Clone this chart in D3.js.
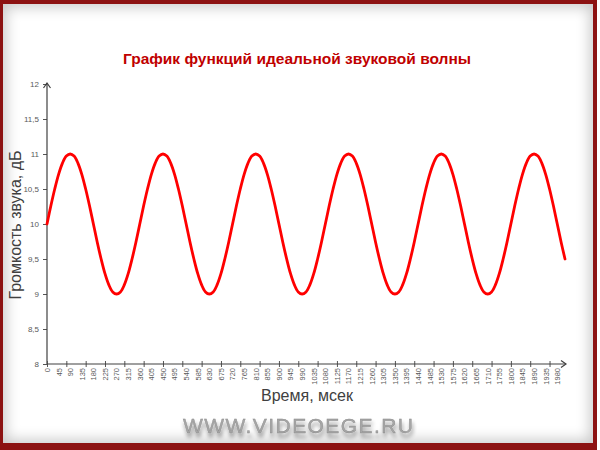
<!DOCTYPE html>
<html>
<head>
<meta charset="utf-8">
<script src="https://cdn.jsdelivr.net/npm/d3@7"></script>
<style>
  html, body { margin: 0; padding: 0; background: #ffffff; }
  #frame { position: absolute; left: 0; top: 0; width: 600px; height: 450px; background: #ffffff; }
  #border { position: absolute; left: 0; top: 0; width: 597px; height: 450px; background: #8c1212; }
  #inner { position: absolute; left: 3px; top: 4px; width: 590px; height: 439px; background: #ffffff;
           box-shadow: inset 0 0 14px 3px rgba(0,0,0,0.22); }
  svg { position: absolute; left: 0; top: 0; }
</style>
</head>
<body>
<div id="frame"><div id="border"></div><div id="inner"></div></div>
<svg id="chart" width="600" height="450"></svg>
<script>
// ---- data ----
const times = [0,15,30,45,60,75,90,105,120,135,150,165,180,195,210,225,240,255,270,285,300,315,330,345,
  360,375,390,405,420,435,450,465,480,495,510,525,540,555,570,585,600,615,630,645,660,675,690,705,
  720,735,750,765,780,795,810,825,840,855,870,885,900,915,930,945,960,975,990,1005,1020,1035,1050,1065,
  1080,1095,1110,1125,1140,1155,1170,1185,1200,1215,1230,1245,1260,1275,1290,1305,1320,1335,1350,1365,1380,1395,1410,1425,
  1440,1455,1470,1485,1500,1515,1530,1545,1560,1575,1590,1605,1620,1635,1650,1665,1680,1695,1710,1725,1740,1755,1770,1785,
  1800,1815,1830,1845,1860,1875,1890,1905,1920,1935,1950,1965,1980,1995,2010];
const loudness = [10,10.26,10.5,10.71,10.87,10.97,11,10.97,10.87,10.71,10.5,10.26,10,9.74,9.5,9.29,9.13,9.03,9,9.03,9.13,9.29,9.5,9.74,
  10,10.26,10.5,10.71,10.87,10.97,11,10.97,10.87,10.71,10.5,10.26,10,9.74,9.5,9.29,9.13,9.03,9,9.03,9.13,9.29,9.5,9.74,
  10,10.26,10.5,10.71,10.87,10.97,11,10.97,10.87,10.71,10.5,10.26,10,9.74,9.5,9.29,9.13,9.03,9,9.03,9.13,9.29,9.5,9.74,
  10,10.26,10.5,10.71,10.87,10.97,11,10.97,10.87,10.71,10.5,10.26,10,9.74,9.5,9.29,9.13,9.03,9,9.03,9.13,9.29,9.5,9.74,
  10,10.26,10.5,10.71,10.87,10.97,11,10.97,10.87,10.71,10.5,10.26,10,9.74,9.5,9.29,9.13,9.03,9,9.03,9.13,9.29,9.5,9.74,
  10,10.26,10.5,10.71,10.87,10.97,11,10.97,10.87,10.71,10.5,10.26,10,9.74,9.5];
const yTicks = [8,8.5,9,9.5,10,10.5,11,11.5,12];
const yTickLabels = ["8","8,5","9","9,5","10","10,5","11","11,5","12"];
const titleText = "График функций идеальной звуковой волны";
const xTitle = "Время, мсек";
const yTitle = "Громкость звука, дБ";
const watermark = "WWW.VIDEOEGE.RU";

// ---- layout ----
const svg = d3.select("#chart");
const font = "'Liberation Sans', Arial, sans-serif";
const x0 = 47, xLast = 565, yTop = 84, yBottom = 364;

const x = d3.scalePoint().domain(times).range([x0, xLast]);
const y = d3.scaleLinear().domain([8, 12]).range([yBottom, yTop]);

const defs = svg.append("defs");
const f = defs.append("filter").attr("id", "wmShadow").attr("x", "-10%").attr("y", "-30%").attr("width", "120%").attr("height", "200%");
f.append("feGaussianBlur").attr("in", "SourceAlpha").attr("stdDeviation", 2).attr("result", "b");
f.append("feOffset").attr("in", "b").attr("dx", 1).attr("dy", 4).attr("result", "o");
f.append("feComponentTransfer").attr("in", "o").attr("result", "o2")
  .append("feFuncA").attr("type", "linear").attr("slope", 0.45);
const m = f.append("feMerge");
m.append("feMergeNode").attr("in", "o2");
m.append("feMergeNode").attr("in", "SourceGraphic");

// title
svg.append("text").attr("x", 297).attr("y", 64).attr("text-anchor", "middle")
  .attr("font-family", font).attr("font-weight", "bold").attr("font-size", 15.5)
  .attr("fill", "#c00000").text(titleText);

// y axis
const yAxis = d3.axisLeft(y).tickValues(yTicks)
  .tickFormat((d, i) => yTickLabels[i]).tickSize(4).tickPadding(4);
const gy = svg.append("g").attr("transform", `translate(${x0},0)`).call(yAxis);
gy.select(".domain").remove();
gy.selectAll("line").attr("stroke", "#555");
gy.selectAll("text").attr("font-family", font).attr("font-size", 8).attr("fill", "#595959");
svg.append("line").attr("x1", x0).attr("x2", x0).attr("y1", yBottom).attr("y2", yTop - 1)
  .attr("stroke", "#404040").attr("stroke-width", 1.2);
svg.append("path").attr("d", `M${x0-3.5},${yTop+4} L${x0},${yTop-1} L${x0+3.5},${yTop+4}`)
  .attr("fill", "none").attr("stroke", "#404040").attr("stroke-width", 1.2);

// x axis
const labelTimes = times.filter((d, i) => i % 3 === 0 && i <= 132);
const tickTimes = times.filter((d, i) => i % 5 === 0);
const xAxisTicks = d3.axisBottom(x).tickValues(tickTimes).tickSize(6).tickFormat("");
const gxt = svg.append("g").attr("transform", `translate(0,${yBottom - 3})`).call(xAxisTicks);
gxt.select(".domain").remove();
gxt.selectAll("line").attr("stroke", "#555");
const xAxisLabels = d3.axisBottom(x).tickValues(labelTimes).tickSize(0).tickPadding(0);
const gxl = svg.append("g").attr("transform", `translate(0,${yBottom})`).call(xAxisLabels);
gxl.select(".domain").remove();
gxl.selectAll("text")
  .attr("font-family", font).attr("font-size", 7.5).attr("fill", "#595959")
  .attr("text-anchor", "end").attr("dy", "0.32em").attr("y", 0)
  .attr("transform", "translate(0,4) rotate(-90)");
gxl.selectAll("text").attr("x", 0);
svg.append("line").attr("x1", x0).attr("x2", 566).attr("y1", yBottom).attr("y2", yBottom)
  .attr("stroke", "#404040").attr("stroke-width", 1.2);
svg.append("path").attr("d", `M561,${yBottom-3.5} L566,${yBottom} L561,${yBottom+3.5}`)
  .attr("fill", "none").attr("stroke", "#404040").attr("stroke-width", 1.2);

// line
const line = d3.line().x((d, i) => x(times[i])).y(d => y(d)).curve(d3.curveCatmullRom);
svg.append("path").datum(loudness).attr("d", line)
  .attr("fill", "none").attr("stroke", "#ff0000").attr("stroke-width", 2.8)
  .attr("stroke-linejoin", "round").attr("stroke-linecap", "round");

// axis titles
svg.append("text").attr("x", 307).attr("y", 401).attr("text-anchor", "middle")
  .attr("font-family", font).attr("font-size", 16).attr("fill", "#404040").text(xTitle);
svg.append("text").attr("transform", "translate(21,225) rotate(-90)").attr("text-anchor", "middle")
  .attr("font-family", font).attr("font-size", 16).attr("fill", "#404040").text(yTitle);

// watermark
svg.append("text").attr("x", 183).attr("y", 433).attr("textLength", 230).attr("lengthAdjust", "spacing")
  .attr("font-family", font).attr("font-size", 21).attr("fill", "#a6a6a6")
  .attr("stroke", "#8a8a8a").attr("stroke-width", 0.4)
  .attr("filter", "url(#wmShadow)").text(watermark);
</script>
</body>
</html>
